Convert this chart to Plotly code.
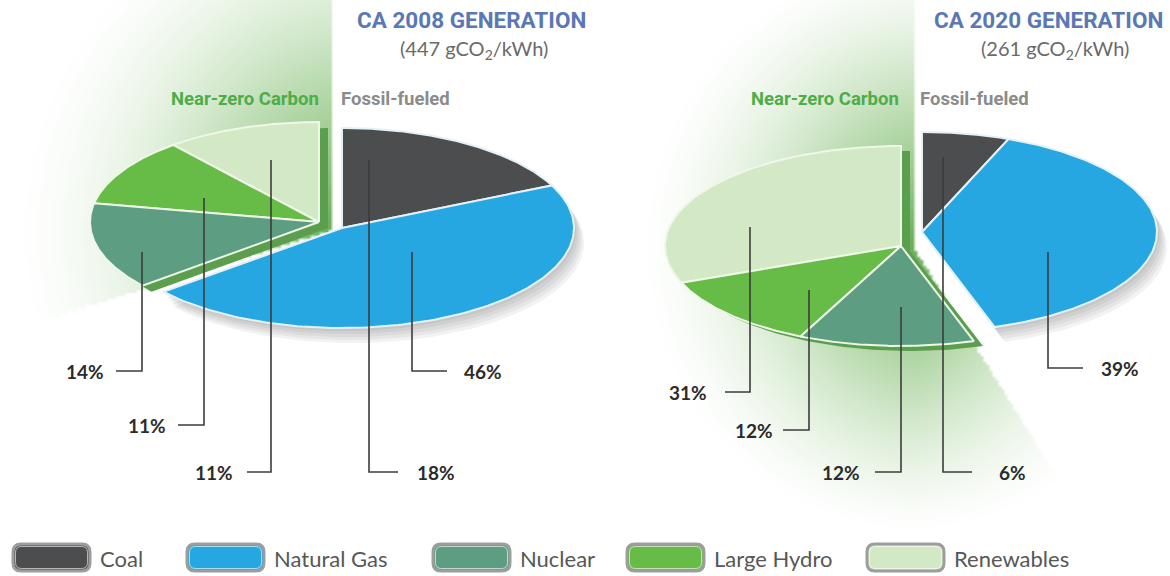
import numpy as np
import plotly.graph_objects as go

# ---------------- data ----------------
categories = ["Coal", "Natural Gas", "Nuclear", "Large Hydro", "Renewables"]
share_2008 = [18, 46, 14, 11, 11]
share_2020 = [6, 39, 12, 12, 31]
years = ["2008", "2020"]
intensity_gco2_kwh = [447, 261]
fossil_categories = ["Coal", "Natural Gas"]                       # clockwise from 12 o'clock
near_zero_categories = ["Renewables", "Large Hydro", "Nuclear"]   # counter-clockwise from 12 o'clock
group_labels = ["Near-zero Carbon", "Fossil-fueled"]

# ---------------- style / layout ----------------
W, H = 1170, 576
colors = {
    "Coal": "#4c4d4f",
    "Natural Gas": "#27a7e1",
    "Nuclear": "#5d9e82",
    "Large Hydro": "#67bc48",
    "Renewables": "#d3e8c4",
}
pies = [
    dict(fossil_apex=(342, 228), fossil_r=(232, 100),
         green_apex=(319, 222), green_r=(229, 100),
         band_shift=(9, 6), shade_apex=(332, 230), shade_edge=332, shade_slope=-0.31, shade_R=330,
         title_right=588, sub_x=474, nz_right=321, ff_left=339,
         # category: (x of vertical, top y, label y, end x of horizontal, text center x)
         leaders={"Coal": (369, 160, 472, 398, 436),
                  "Natural Gas": (412, 252, 371, 447, 483),
                  "Nuclear": (142, 252, 371, 116, 85),
                  "Large Hydro": (204, 198, 425, 178, 147),
                  "Renewables": (271, 160, 472, 247, 214)}),
    dict(fossil_apex=(922, 232), fossil_r=(235, 100),
         green_apex=(901, 246), green_r=(236, 100),
         band_shift=(9, 5), shade_apex=(912, 246), shade_edge=912, shade_slope=1.6, shade_R=285,
         title_right=1165, sub_x=1055, nz_right=901, ff_left=918,
         leaders={"Coal": (943, 157, 472, 972, 1012),
                  "Natural Gas": (1048, 252, 368, 1083, 1120),
                  "Nuclear": (901, 307, 472, 875, 841),
                  "Large Hydro": (809, 290, 430, 783, 754),
                  "Renewables": (750, 227, 392, 725, 688)}),
]
legend_box_x = [13, 187, 433, 627, 867]
legend_box_w, legend_y0, legend_y1 = 77, 544, 571

TITLE_FONT = "Roboto, sans-serif"
BODY_FONT = "Lato, Open Sans, sans-serif"


def wedge(apex, r, t0, t1, n=140):
    t = np.radians(np.linspace(t0, t1, n))
    xs = np.concatenate([[apex[0]], apex[0] + r[0] * np.sin(t), [apex[0]]])
    ys = np.concatenate([[apex[1]], apex[1] - r[1] * np.cos(t), [apex[1]]])
    return xs, ys


fig = go.Figure()

# ---- soft green background "beam" behind the near-zero part ----
for pie in pies:
    ax, ay = pie["shade_apex"]
    if pie["shade_slope"] < 0:
        gx = np.arange(0, ax + 6, 3.0)
    else:
        gx = np.arange(ax - 330, ax + 170, 3.0)
    gy = np.arange(0, 530, 3.0)
    X, Y = np.meshgrid(gx, gy)
    if pie["shade_slope"] < 0:
        mask = (X <= pie["shade_edge"]) & (Y <= ay + (ax - X) * 0.31)
        edge = np.clip(1 - np.abs(pie["shade_edge"] - X) / 260, 0, 1)
    else:
        mask = np.where(Y < ay, X <= pie["shade_edge"], X <= pie["shade_edge"] + (Y - ay) / pie["shade_slope"])
        edge = np.clip(1 - np.maximum(pie["shade_edge"] - X, (X - pie["shade_edge"]) * 1.6) / 260, 0, 1)
    d = np.sqrt(((X - ax) * 1.05) ** 2 + (Y - ay) ** 2)
    radial = np.clip(1 - d / pie["shade_R"], 0, 1)
    inten = radial ** 1.25 * (0.55 + 0.45 * edge)
    z = np.where(mask, inten, 0.0)
    fig.add_trace(go.Heatmap(
        x=gx, y=gy, z=z, zmin=0, zmax=1, zsmooth="best", showscale=False, hoverinfo="skip",
        colorscale=[[0, "rgba(125,188,105,0)"], [0.45, "rgba(120,185,100,0.5)"], [1, "rgba(96,168,80,0.95)"]],
    ))

for pie, values in zip(pies, [share_2008, share_2020]):
    val = dict(zip(categories, values))
    fossil_total = sum(val[c] for c in fossil_categories)
    nz_total = sum(val[c] for c in near_zero_categories)

    # soft drop shadow of the fossil piece
    for dx, dy in [(2, 3), (4, 6), (6, 9), (8, 12), (10, 15)]:
        xs, ys = wedge(pie["fossil_apex"], pie["fossil_r"], 0, fossil_total * 3.6)
        fig.add_trace(go.Scatter(x=xs + dx, y=ys + dy, mode="lines", fill="toself",
                                 fillcolor="rgba(90,90,90,0.08)", line=dict(width=0),
                                 hoverinfo="skip"))
    # dark green "thickness" of the near-zero piece
    xs, ys = wedge(pie["green_apex"], pie["green_r"], -nz_total * 3.6, 0)
    bx, by = pie["band_shift"]
    fig.add_trace(go.Scatter(x=xs + bx, y=ys + by, mode="lines", fill="toself",
                             fillcolor="#5b9e4d", line=dict(width=0), hoverinfo="skip"))

    # fossil slices, clockwise from 12 o'clock
    cum = 0
    for c in fossil_categories:
        xs, ys = wedge(pie["fossil_apex"], pie["fossil_r"], cum * 3.6, (cum + val[c]) * 3.6)
        cum += val[c]
        fig.add_trace(go.Scatter(x=xs, y=ys, mode="lines", fill="toself", fillcolor=colors[c],
                                 line=dict(color="#e4f1f8", width=2), name=c,
                                 hovertemplate=f"{c}: {val[c]}%<extra></extra>"))
    # near-zero slices, counter-clockwise from 12 o'clock
    cum = 0
    for c in near_zero_categories:
        xs, ys = wedge(pie["green_apex"], pie["green_r"], -(cum + val[c]) * 3.6, -cum * 3.6)
        cum += val[c]
        fig.add_trace(go.Scatter(x=xs, y=ys, mode="lines", fill="toself", fillcolor=colors[c],
                                 line=dict(color="#eef7e8", width=2), name=c,
                                 hovertemplate=f"{c}: {val[c]}%<extra></extra>"))

annotations = []
# ---- leader lines and percentage labels ----
for pie, values in zip(pies, [share_2008, share_2020]):
    val = dict(zip(categories, values))
    for c in categories:
        xv, ytop, ylab, xend, xtext = pie["leaders"][c]
        fig.add_trace(go.Scatter(x=[xv, xv, xend], y=[ytop, ylab, ylab], mode="lines",
                                 line=dict(color="#3c3c3c", width=1.6), hoverinfo="skip"))
        annotations.append(dict(x=xtext, y=ylab, text=f"<b>{val[c]}%</b>", showarrow=False,
                                xanchor="center", yanchor="middle",
                                font=dict(family=BODY_FONT, size=19, color="#2b2b2b")))

# ---- titles ----
for pie, yr, g in zip(pies, years, intensity_gco2_kwh):
    annotations.append(dict(x=pie["title_right"], y=20, text=f"<b>CA {yr} GENERATION</b>", showarrow=False,
                            xanchor="right", yanchor="middle",
                            font=dict(family=TITLE_FONT, size=22.5, color="#5a78b3")))
    annotations.append(dict(x=pie["sub_x"], y=49, text=f"({g} gCO<sub>2</sub>/kWh)", showarrow=False,
                            xanchor="center", yanchor="middle",
                            font=dict(family=BODY_FONT, size=20, color="#6a6a6a")))
    annotations.append(dict(x=pie["nz_right"], y=99, text=f"<b>{group_labels[0]}</b>", showarrow=False,
                            xanchor="right", yanchor="middle",
                            font=dict(family=TITLE_FONT, size=18.5, color="#4dad48")))
    annotations.append(dict(x=pie["ff_left"], y=99, text=f"<b>{group_labels[1]}</b>", showarrow=False,
                            xanchor="left", yanchor="middle",
                            font=dict(family=TITLE_FONT, size=18.5, color="#8b8b8b")))

# ---- legend (rounded swatches) ----
shapes = []


def rrect(x0, y0, x1, y1, r):
    return (f"M {x0 + r},{y0} L {x1 - r},{y0} Q {x1},{y0} {x1},{y0 + r} L {x1},{y1 - r} "
            f"Q {x1},{y1} {x1 - r},{y1} L {x0 + r},{y1} Q {x0},{y1} {x0},{y1 - r} "
            f"L {x0},{y0 + r} Q {x0},{y0} {x0 + r},{y0} Z")


for c, bx in zip(categories, legend_box_x):
    shapes.append(dict(type="path", xref="x", yref="y",
                       path=rrect(bx, legend_y0, bx + legend_box_w, legend_y1, 8),
                       fillcolor=colors[c], line=dict(color="#9d9d9d", width=3)))
    shapes.append(dict(type="path", xref="x", yref="y",
                       path=rrect(bx + 2.5, legend_y0 + 2.5, bx + legend_box_w - 2.5, legend_y1 - 2.5, 6),
                       fillcolor="rgba(0,0,0,0)", line=dict(color="rgba(255,255,255,0.6)", width=1)))
    annotations.append(dict(x=bx + legend_box_w + 8, y=(legend_y0 + legend_y1) / 2 + 1, text=c,
                            showarrow=False, xanchor="left", yanchor="middle",
                            font=dict(family=BODY_FONT, size=22, color="#575757")))

fig.update_layout(
    width=W, height=H, margin=dict(l=0, r=0, t=0, b=0),
    paper_bgcolor="white", plot_bgcolor="white", showlegend=False,
    xaxis=dict(range=[0, W], visible=False, fixedrange=True),
    yaxis=dict(range=[H, 0], visible=False, fixedrange=True),
    annotations=annotations, shapes=shapes,
)
fig.write_html("out.html", config={"displayModeBar": False},
               post_script="document.body.style.margin='0px';")
